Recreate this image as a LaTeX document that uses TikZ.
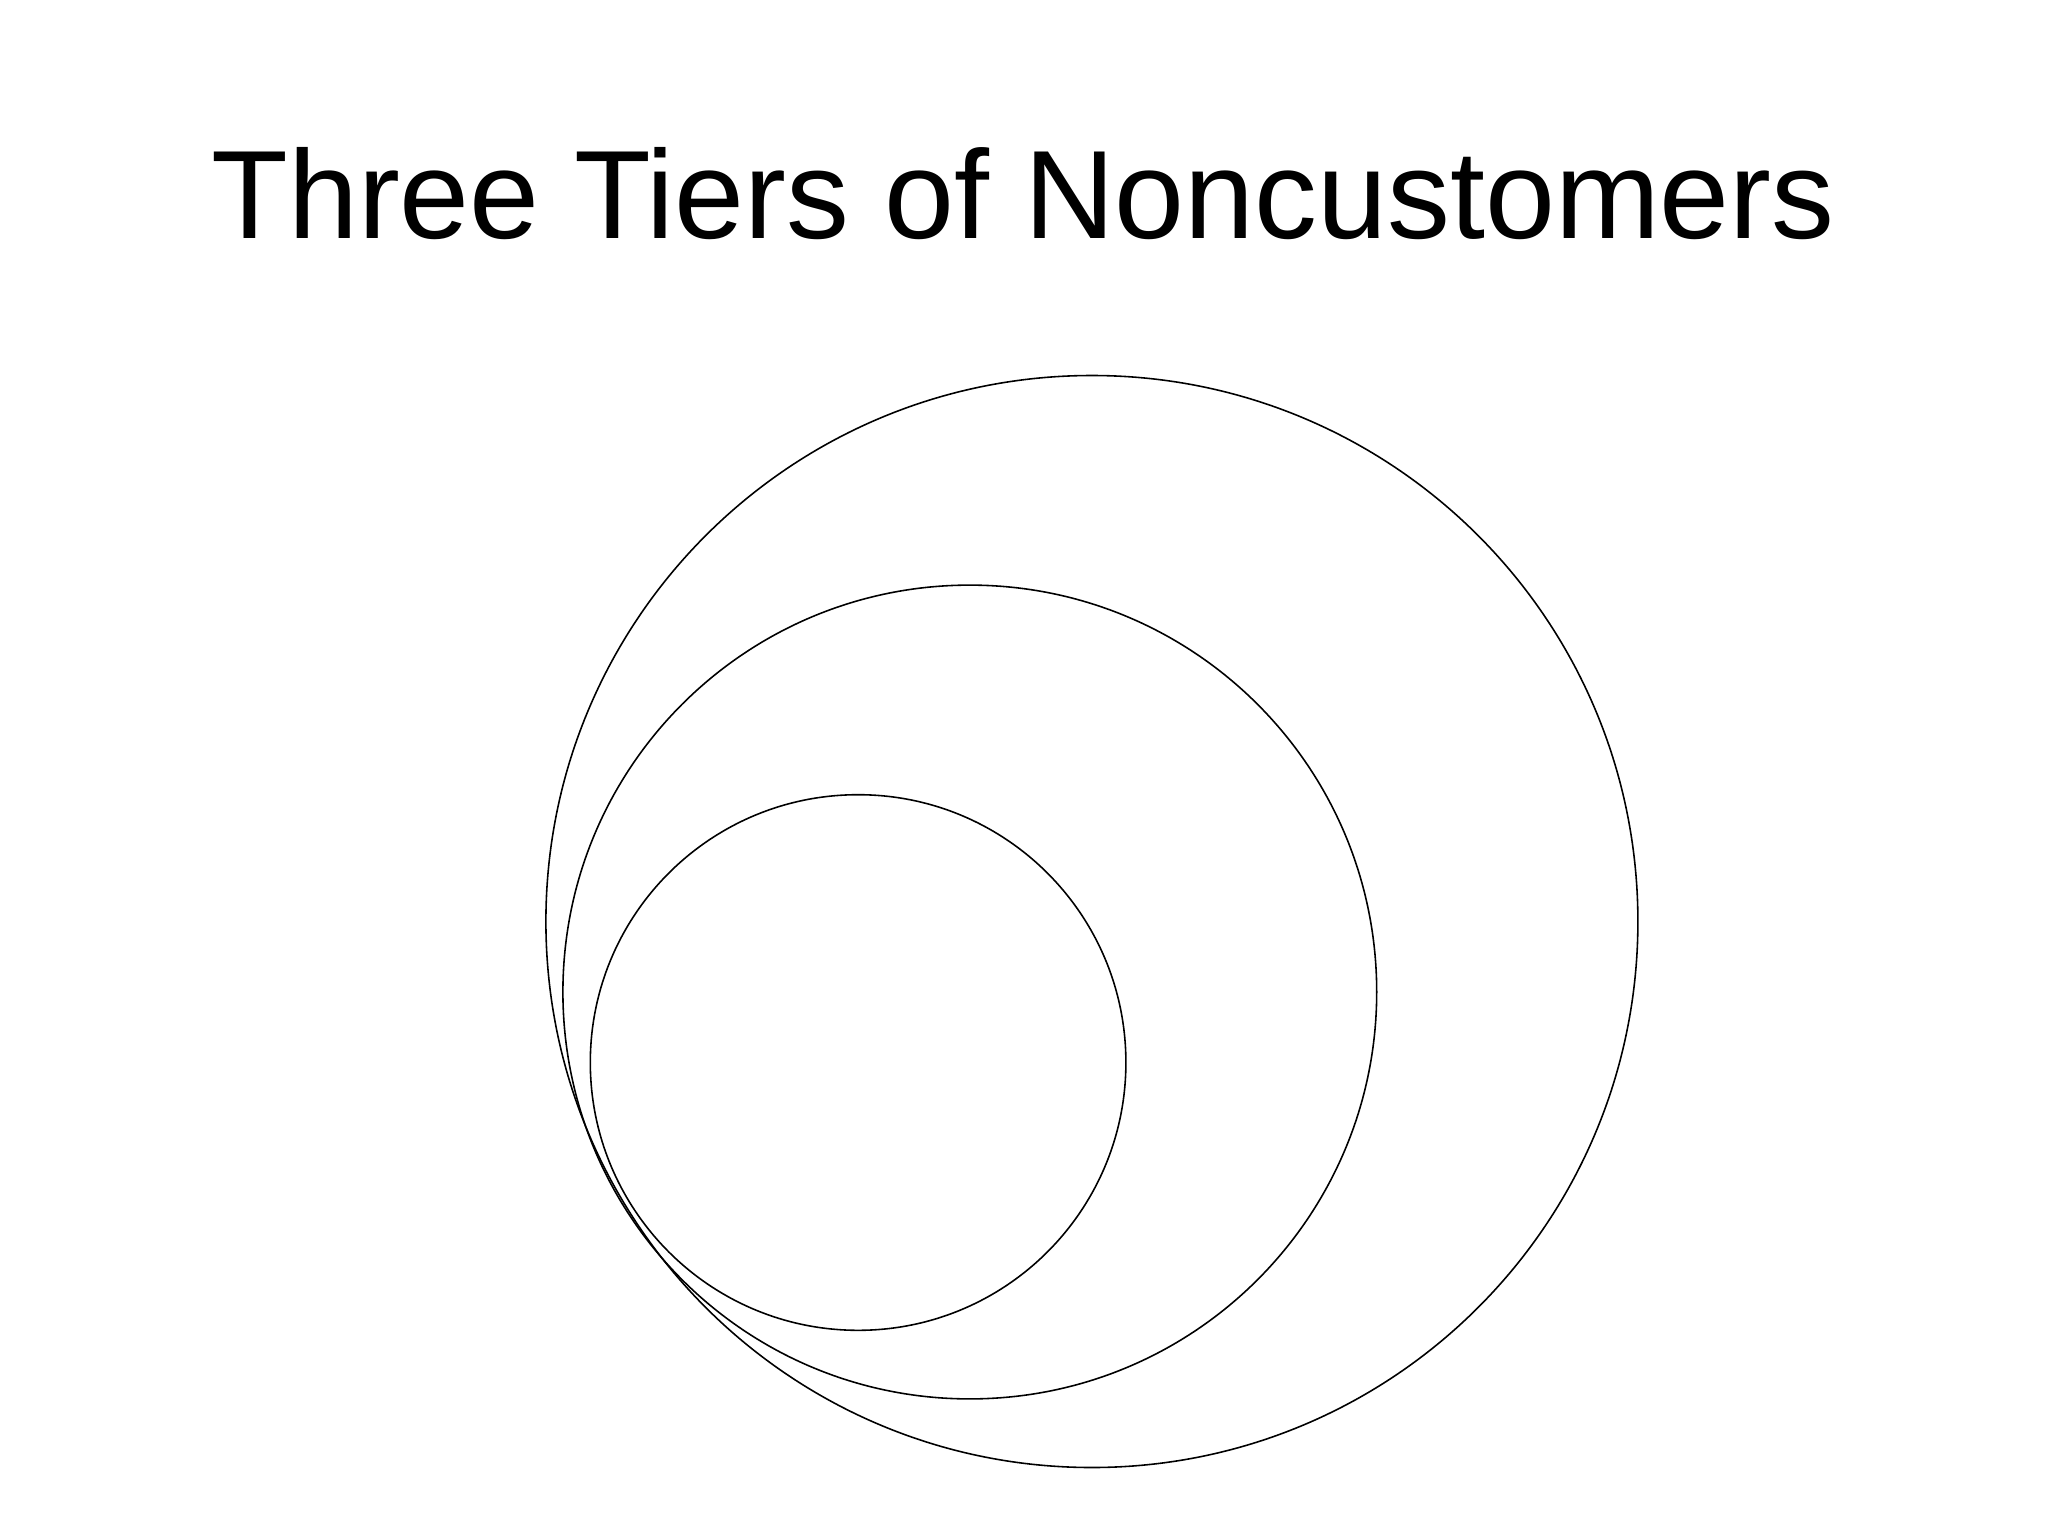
\documentclass[tikz,border=0pt]{standalone}
\usepackage{fontspec}
\setmainfont{Liberation Sans}
\begin{document}
\begin{tikzpicture}[x=0.01cm,y=-0.01cm,
  ring/.style={draw=black,line width=0.45pt}]
\useasboundingbox (0,0) rectangle (2048,1536);
\node[anchor=base,inner sep=0pt,font=\fontsize{35.75pt}{40pt}\selectfont] (title) at (1023,238) {Three Tiers of Noncustomers};
\draw[ring] (1091.9,921.5) circle (546);
\draw[ring] (969.8,992) circle (406.9);
\draw[ring] (858.1,1062.5) circle (267.8);
\end{tikzpicture}
\end{document}
